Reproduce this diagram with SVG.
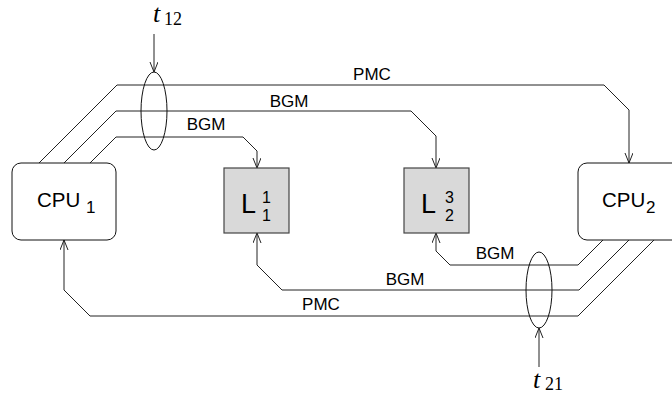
<svg xmlns="http://www.w3.org/2000/svg" width="672" height="405" viewBox="0 0 672 405">
  <style>
    .cpu { fill: #ffffff; stroke: #111; stroke-width: 1; }
    .mem { fill: #d9d9d9; stroke: #444; stroke-width: 1.2; }
    .wire { fill: none; stroke: #222; stroke-width: 1; }
    .ring { fill: none; stroke: #111; stroke-width: 1; }
    .sans { font-family: "Liberation Sans", Arial, sans-serif; fill: #000; }
    .lbl { font-size: 17px; text-anchor: middle; }
    .serif { font-family: "Liberation Serif", "Times New Roman", serif; fill: #000; }
  </style>
  <defs>
    <marker id="arrow" markerUnits="userSpaceOnUse" markerWidth="12" markerHeight="10" refX="10" refY="4" orient="auto">
      <path d="M0,0 L10,4 L0,8" fill="none" stroke="#222" stroke-width="1"/>
    </marker>
  </defs>

  <!-- connectors -->
  <g id="connectors">
    <path class="wire" d="M39,163 L117,85 L604,85 L629,110 L629,163" marker-end="url(#arrow)"/>
    <path class="wire" d="M64,163 L116,111 L411,111 L436,136 L436,168" marker-end="url(#arrow)"/>
    <path class="wire" d="M90,163 L116,137 L243,137 L257,151 L257,168" marker-end="url(#arrow)"/>
    <path class="wire" d="M603,240 L578,265 L450,265 L436,251 L436,233" marker-end="url(#arrow)"/>
    <path class="wire" d="M629,240 L579,290 L282,290 L257,265 L257,233" marker-end="url(#arrow)"/>
    <path class="wire" d="M654,240 L578,316 L90,316 L64,290 L64,240" marker-end="url(#arrow)"/>
    <path class="wire" d="M154,34 L154,72" marker-end="url(#arrow)"/>
    <path class="wire" d="M539,367 L539,328" marker-end="url(#arrow)"/>

    <text class="sans lbl" x="372" y="80">PMC</text>
    <text class="sans lbl" x="289" y="107">BGM</text>
    <text class="sans lbl" x="206" y="130">BGM</text>
    <text class="sans lbl" x="495" y="259">BGM</text>
    <text class="sans lbl" x="405" y="285">BGM</text>
    <text class="sans lbl" x="321" y="310">PMC</text>
  </g>

  <!-- timing cuts -->
  <g id="t12">
    <ellipse class="ring" cx="154" cy="111" rx="13" ry="39"/>
    <text class="serif" x="153" y="22" font-size="26" font-style="italic">t</text>
    <text class="serif" x="164" y="25" font-size="18">12</text>
  </g>
  <g id="t21">
    <ellipse class="ring" cx="539" cy="290" rx="13" ry="38"/>
    <text class="serif" x="533" y="388" font-size="26" font-style="italic">t</text>
    <text class="serif" x="545" y="390" font-size="18">21</text>
  </g>

  <!-- processors -->
  <g id="cpu1">
    <rect class="cpu" x="12" y="163" width="104" height="77" rx="9"/>
    <text class="sans" x="37" y="207" font-size="20.5">CPU</text>
    <text class="sans" x="86" y="213" font-size="17">1</text>
  </g>
  <g id="cpu2">
    <rect class="cpu" x="578" y="163" width="104" height="77" rx="9"/>
    <text class="sans" x="602" y="207" font-size="20.5">CPU</text>
    <text class="sans" x="646" y="213" font-size="17">2</text>
  </g>

  <!-- memory blocks -->
  <g id="l11">
    <rect class="mem" x="224" y="168" width="65" height="65"/>
    <text class="sans" x="241" y="213" font-size="27">L</text>
    <text class="sans" x="262" y="203" font-size="16">1</text>
    <text class="sans" x="262" y="221" font-size="16">1</text>
  </g>
  <g id="l23">
    <rect class="mem" x="404" y="168" width="65" height="65"/>
    <text class="sans" x="421" y="213" font-size="27">L</text>
    <text class="sans" x="445" y="203" font-size="16">3</text>
    <text class="sans" x="445" y="221" font-size="16">2</text>
  </g>
</svg>
